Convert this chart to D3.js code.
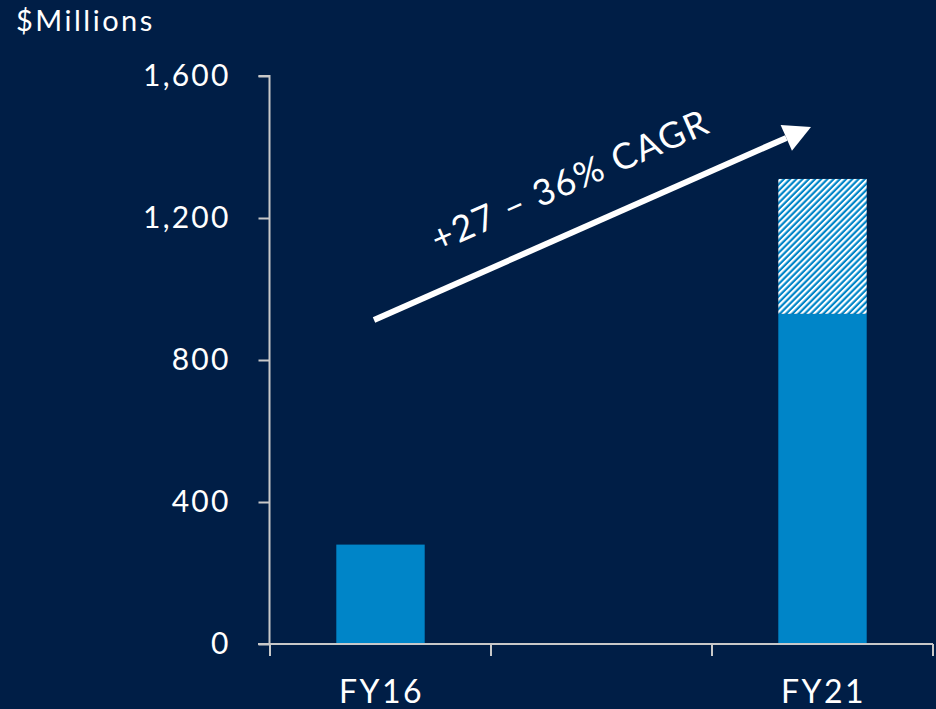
<!DOCTYPE html>
<html>
<head>
<meta charset="utf-8">
<script src="https://cdn.jsdelivr.net/npm/d3@7"></script>
<style>
  html, body { margin: 0; padding: 0; background: #001e46; }
  svg { display: block; }
  text { font-family: Lato, "Noto Sans", sans-serif; fill: #ffffff; }
</style>
</head>
<body>
<svg id="chart"></svg>
<script>
const width = 936
const height = 709

// data
const categories = ['FY16', '', 'FY21']
const baseValues = [280, null, 930]
const upsideValues = [0, null, 380]   // hatched part on top of the base
const yTicks = [0, 400, 800, 1200, 1600]
const unitLabel = '$Millions'
const cagrLabel = '+27 \u2013 36% CAGR'

const margin = {left: 270, right: 3, top: 76, bottom: 65}
const blue = '#0085c8'
const axisColor = '#c8c8c8'

const svg = d3.select('#chart').attr('width', width).attr('height', height)

svg.append('rect').attr('width', width).attr('height', height).attr('fill', '#001e46')

// hatch pattern
const defs = svg.append('defs')
const pat = defs.append('pattern')
  .attr('id', 'hatch')
  .attr('patternUnits', 'userSpaceOnUse')
  .attr('width', 4.4).attr('height', 4.4)
  .attr('patternTransform', 'rotate(45)')
pat.append('rect').attr('width', 4.4).attr('height', 4.4).attr('fill', blue)
pat.append('rect').attr('width', 2.2).attr('height', 4.4).attr('fill', '#ffffff')

const x = d3.scaleBand()
  .domain(categories.map((d, i) => i))
  .range([margin.left, width - margin.right])
  .paddingInner(0.6)
  .paddingOuter(0.3)

const y = d3.scaleLinear()
  .domain([0, 1600])
  .range([height - margin.bottom, margin.top])

// bars
const bars = categories.map((c, i) => ({i: i, base: baseValues[i], up: upsideValues[i]}))
  .filter(d => d.base !== null)

svg.selectAll('rect.base').data(bars).enter().append('rect')
  .attr('class', 'base')
  .attr('x', d => x(d.i))
  .attr('width', x.bandwidth())
  .attr('y', d => y(d.base))
  .attr('height', d => y(0) - y(d.base))
  .attr('fill', blue)

svg.selectAll('rect.up').data(bars.filter(d => d.up > 0)).enter().append('rect')
  .attr('class', 'up')
  .attr('x', d => x(d.i))
  .attr('width', x.bandwidth())
  .attr('y', d => y(d.base + d.up))
  .attr('height', d => y(d.base) - y(d.base + d.up))
  .attr('fill', 'url(#hatch)')

// y axis
const yAxis = svg.append('g')
  .attr('transform', `translate(${margin.left - 0.5},0)`)
  .call(d3.axisLeft(y).tickValues(yTicks).tickSize(11).tickPadding(28).tickFormat(d3.format(',')))
yAxis.select('.domain').attr('stroke', axisColor).attr('stroke-width', 2)
  .attr('d', `M-11,${y(1600)}H0V${y(0)}`)
yAxis.selectAll('.tick line').attr('stroke', axisColor).attr('stroke-width', 2)
yAxis.selectAll('.tick text').attr('font-size', 30).attr('fill', '#ffffff')
  .attr('letter-spacing', 2.2)
  .style('font-family', 'Lato, "Noto Sans", sans-serif')

// x axis: ticks at band boundaries
const edges = d3.range(categories.length + 1).map(i => margin.left + i * x.step())
const xg = svg.append('g').attr('transform', `translate(0,${y(0)})`)
xg.append('line')
  .attr('x1', margin.left - 12).attr('x2', edges[edges.length - 1])
  .attr('stroke', axisColor).attr('stroke-width', 2)
xg.selectAll('line.tick').data(edges).enter().append('line')
  .attr('class', 'tick')
  .attr('x1', d => d).attr('x2', d => d)
  .attr('y1', 0).attr('y2', 12)
  .attr('stroke', axisColor).attr('stroke-width', 2)
xg.selectAll('text').data(categories.map((c, i) => ({c, i})).filter(d => d.c)).enter().append('text')
  .attr('x', d => x(d.i) + x.bandwidth() / 2 + 1)
  .attr('y', 59)
  .attr('text-anchor', 'middle')
  .attr('font-size', 32)
  .attr('letter-spacing', 2.5)
  .text(d => d.c)

// unit label
svg.append('text')
  .attr('x', 16).attr('y', 31)
  .attr('font-size', 29)
  .attr('letter-spacing', 2.5)
  .text(unitLabel)

// CAGR arrow
const a0 = [374, 320], a1 = [811, 127]
const ang = Math.atan2(a1[1] - a0[1], a1[0] - a0[0])
const headLen = 27, headW = 14
const bx = a1[0] - headLen * Math.cos(ang), by = a1[1] - headLen * Math.sin(ang)
svg.append('line')
  .attr('x1', a0[0]).attr('y1', a0[1]).attr('x2', bx).attr('y2', by)
  .attr('stroke', '#ffffff').attr('stroke-width', 6)
svg.append('path')
  .attr('d', `M${a1[0]},${a1[1]}L${bx + headW * Math.sin(ang)},${by - headW * Math.cos(ang)}L${bx - headW * Math.sin(ang)},${by + headW * Math.cos(ang)}Z`)
  .attr('fill', '#ffffff')

svg.append('text')
  .attr('transform', `translate(575,192) rotate(${ang * 180 / Math.PI})`)
  .attr('text-anchor', 'middle')
  .attr('font-size', 36)
  .attr('letter-spacing', 1.5)
  .text(cagrLabel)
</script>
</body>
</html>
